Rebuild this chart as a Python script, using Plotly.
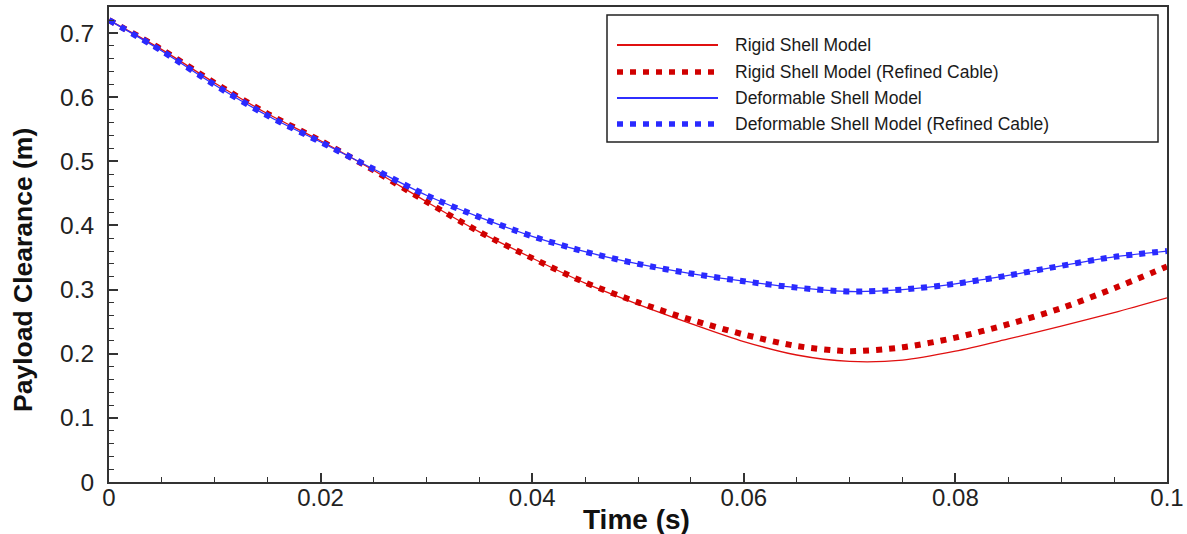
import plotly.graph_objects as go

# ---- data ----
time_s = [0.000, 0.005, 0.010, 0.015, 0.020, 0.025, 0.030, 0.035, 0.040, 0.045,
          0.050, 0.055, 0.060, 0.065, 0.070, 0.075, 0.080, 0.085, 0.090, 0.095, 0.100]

rigid = [0.720, 0.674, 0.622, 0.574, 0.532, 0.486, 0.437, 0.390, 0.349, 0.310,
         0.277, 0.247, 0.219, 0.198, 0.188, 0.190, 0.204, 0.223, 0.243, 0.264, 0.287]
rigid_refined = [0.720, 0.674, 0.622, 0.574, 0.532, 0.486, 0.437, 0.390, 0.349, 0.311,
                 0.280, 0.253, 0.230, 0.212, 0.204, 0.210, 0.225, 0.246, 0.271, 0.302, 0.336]
deform = [0.720, 0.672, 0.619, 0.571, 0.530, 0.488, 0.447, 0.413, 0.383, 0.359,
          0.340, 0.325, 0.313, 0.303, 0.297, 0.300, 0.309, 0.322, 0.337, 0.351, 0.360]
deform_refined = [0.720, 0.672, 0.619, 0.571, 0.530, 0.488, 0.447, 0.413, 0.383, 0.359,
                  0.340, 0.325, 0.313, 0.303, 0.297, 0.300, 0.309, 0.322, 0.337, 0.351, 0.360]

series_names = ["Rigid Shell Model", "Rigid Shell Model (Refined Cable)",
                "Deformable Shell Model", "Deformable Shell Model (Refined Cable)"]
series_values = [rigid, rigid_refined, deform, deform_refined]
series_colors = ["#e01010", "#d00000", "#2f2fff", "#2a2aff"]
series_widths = [1.3, 6, 1.3, 6]
series_dash = ["solid", "6px,7px", "solid", "6px,7px"]

x_title = "Time (s)"
y_title = "Payload Clearance (m)"

# ---- figure ----
fig = go.Figure()
for name, vals, col, w, d in zip(series_names, series_values, series_colors, series_widths, series_dash):
    fig.add_trace(go.Scatter(x=time_s, y=vals, mode="lines", name=name,
                             line=dict(color=col, width=w, dash=d, shape="spline", smoothing=0.8),
                             showlegend=False))

W, H = 1187, 534
L, R, T, B = 109, 20, 7, 52
pw, ph = W - L - R, H - T - B

def px_x(p):
    return (p - L) / pw

def px_y(p):
    return (H - B - p) / ph

# custom legend (long line samples like the reference)
box = dict(x0=px_x(607), x1=px_x(1158), y0=px_y(142), y1=px_y(15))
fig.add_shape(type="rect", xref="paper", yref="paper", **box,
              line=dict(color="#222", width=1.5), fillcolor="white", layer="above")
row_y = [45, 72, 98, 124]
for i, (name, col, w, d) in enumerate(zip(series_names, series_colors, series_widths, series_dash)):
    yy = px_y(row_y[i])
    fig.add_shape(type="line", xref="paper", yref="paper",
                  x0=px_x(617), x1=px_x(718), y0=yy, y1=yy,
                  line=dict(color=col, width=(1.8 if w < 2 else 5.5), dash=d), layer="above")
    fig.add_annotation(xref="paper", yref="paper", x=px_x(733), y=yy, text=name,
                       showarrow=False, xanchor="left", yanchor="middle",
                       font=dict(family="Liberation Sans, Arial, sans-serif", size=17.5, color="#1a1a1a"))

# axis titles placed as in the reference
fig.add_annotation(xref="paper", yref="paper", x=px_x(23), y=px_y(270), text="<b>" + y_title + "</b>",
                   textangle=-90, showarrow=False, xanchor="center", yanchor="middle",
                   font=dict(family="Liberation Sans, Arial, sans-serif", size=26.5, color="#111"))
fig.add_annotation(xref="paper", yref="paper", x=px_x(636), y=px_y(519), text="<b>" + x_title + "</b>",
                   showarrow=False, xanchor="center", yanchor="middle",
                   font=dict(family="Liberation Sans, Arial, sans-serif", size=28, color="#111"))

axis_common = dict(showline=True, linecolor="#333", linewidth=2, mirror=True,
                   ticks="inside", ticklen=9, tickwidth=1.5, tickcolor="#333",
                   showgrid=False, zeroline=False, automargin=False)

fig.update_xaxes(range=[0, 0.1], dtick=0.02, tick0=0,
                 minor=dict(dtick=0.005, ticks="inside", ticklen=5, tickcolor="#333", tickwidth=1.3),
                 tickfont=dict(family="Liberation Sans, sans-serif", size=24, color="#222"),
                 ticklabelstandoff=-7,
                 **axis_common)
fig.update_yaxes(range=[0, 0.7405], dtick=0.1, tick0=0,
                 minor=dict(dtick=0.02, ticks="inside", ticklen=5, tickcolor="#333", tickwidth=1.3),
                 tickfont=dict(family="Liberation Sans, Arial, sans-serif", size=24.5, color="#222"),
                 ticklabelstandoff=8,
                 **axis_common)

fig.update_layout(width=W, height=H, margin=dict(l=L, r=R, t=T, b=B),
                  paper_bgcolor="white", plot_bgcolor="white", showlegend=False)

fig.write_html("out.html", config={"displayModeBar": False},
               post_script="document.body.style.margin='0';document.body.style.overflow='hidden';")
